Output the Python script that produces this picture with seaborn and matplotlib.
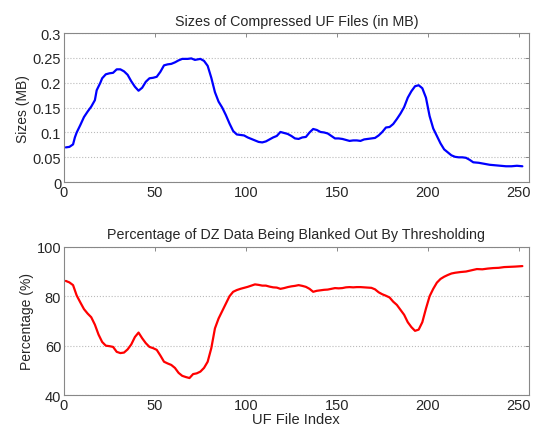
"""
Compressed UF file sizes and DZ blanking percentage, MATLAB-like look.
"""

import matplotlib
matplotlib.use("Agg")
import matplotlib.pyplot as plt
import matplotlib.ticker as mticker
import seaborn as sns

# top panel: file index vs compressed size (MB)
size_idx = [1, 3, 5, 6, 7, 9, 11, 13, 15, 17, 18, 20, 21, 23, 25, 27, 29, 31, 33, 35,
            37, 39, 41, 43, 45, 47, 49, 51, 53, 55, 57, 59, 61, 63, 65, 68, 70, 72, 75, 77,
            79, 81, 83, 85, 87, 89, 91, 93, 95, 97, 99, 101, 103, 105, 107, 109, 111, 113, 115, 117,
            119, 121, 123, 125, 127, 129, 131, 133, 135, 137, 139, 141, 143, 145, 147, 149, 151, 153, 155, 157,
            159, 161, 163, 165, 167, 169, 171, 173, 175, 177, 179, 181, 183, 185, 187, 189, 191, 193, 195, 197,
            199, 201, 203, 205, 207, 209, 211, 213, 215, 217, 219, 221, 223, 225, 228, 231, 234, 237, 240, 243,
            246, 249, 252]
size_mb = [0.070, 0.071, 0.076, 0.090, 0.100, 0.115, 0.131, 0.142, 0.152, 0.165, 0.185, 0.200, 0.209, 0.217, 0.219, 0.220, 0.227, 0.227, 0.223, 0.216,
           0.203, 0.192, 0.184, 0.190, 0.202, 0.209, 0.210, 0.212, 0.222, 0.235, 0.237, 0.238, 0.241, 0.245, 0.248, 0.248, 0.249, 0.246, 0.248, 0.244,
           0.234, 0.210, 0.181, 0.162, 0.150, 0.135, 0.118, 0.103, 0.096, 0.095, 0.094, 0.090, 0.087, 0.084, 0.081, 0.080, 0.082, 0.086, 0.090, 0.093,
           0.101, 0.099, 0.097, 0.093, 0.088, 0.087, 0.090, 0.091, 0.100, 0.107, 0.105, 0.101, 0.100, 0.098, 0.093, 0.088, 0.088, 0.087, 0.085, 0.083,
           0.084, 0.084, 0.083, 0.086, 0.087, 0.088, 0.089, 0.094, 0.101, 0.110, 0.111, 0.117, 0.127, 0.138, 0.151, 0.170, 0.183, 0.193, 0.195, 0.189,
           0.170, 0.133, 0.108, 0.093, 0.078, 0.066, 0.060, 0.054, 0.051, 0.050, 0.050, 0.049, 0.045, 0.040, 0.039, 0.037, 0.035, 0.034, 0.033, 0.032,
           0.032, 0.033, 0.032]

# bottom panel: file index vs percentage blanked out
pct_idx = [1, 3, 5, 7, 9, 11, 13, 15, 17, 19, 21, 23, 25, 27, 29, 31, 33, 35, 37, 39,
           41, 43, 45, 47, 49, 51, 53, 55, 57, 59, 61, 63, 65, 67, 69, 71, 73, 75, 77, 79,
           81, 83, 85, 87, 89, 91, 93, 95, 97, 99, 101, 103, 105, 107, 109, 111, 113, 115, 117, 119,
           121, 123, 125, 127, 129, 131, 133, 135, 137, 139, 141, 143, 145, 147, 149, 151, 153, 155, 157, 159,
           161, 163, 165, 167, 169, 171, 173, 175, 177, 179, 181, 183, 185, 187, 189, 191, 193, 195, 197, 199,
           201, 203, 205, 207, 209, 211, 213, 215, 218, 221, 224, 227, 230, 233, 236, 239, 242, 245, 248, 252]
pct_blank = [86.2, 85.6, 84.5, 80.3, 77.5, 74.8, 73.0, 71.5, 68.5, 64.5, 61.5, 60.0, 59.8, 59.5, 57.5, 57.0, 57.2, 58.5, 60.5, 63.5,
             65.3, 63.0, 61.0, 59.5, 59.0, 58.3, 56.0, 53.5, 52.8, 52.2, 51.0, 49.0, 47.8, 47.3, 46.9, 48.5, 48.8, 49.5, 51.0, 53.5,
             59.0, 67.0, 71.0, 74.0, 77.0, 80.0, 81.8, 82.5, 83.0, 83.4, 83.8, 84.3, 84.8, 84.6, 84.3, 84.3, 83.9, 83.6, 83.5, 83.0,
             83.3, 83.7, 84.0, 84.2, 84.5, 84.2, 83.8, 83.0, 81.8, 82.2, 82.4, 82.6, 82.7, 83.0, 83.3, 83.2, 83.3, 83.6, 83.7, 83.6,
             83.7, 83.7, 83.6, 83.5, 83.4, 82.8, 81.6, 80.8, 80.2, 79.5, 77.8, 76.5, 74.5, 72.5, 69.5, 67.5, 66.0, 66.5, 69.5, 75.0,
             80.0, 83.0, 85.5, 87.0, 87.9, 88.6, 89.2, 89.5, 89.8, 90.0, 90.5, 91.0, 90.9, 91.2, 91.4, 91.5, 91.8, 91.9, 92.0, 92.2]

sns.set_style("white")
plt.rcParams["font.family"] = ["Liberation Sans", "DejaVu Sans"]
plt.rcParams.update({"font.size": 10})

fig = plt.figure(figsize=(5.33, 4.31), dpi=100)
ax_top = fig.add_axes([0.120, 0.575, 0.872, 0.346])
ax_bot = fig.add_axes([0.120, 0.081, 0.872, 0.344])

sns.lineplot(x=size_idx, y=size_mb, ax=ax_top, color="#0000ff", lw=1.6)
sns.lineplot(x=pct_idx, y=pct_blank, ax=ax_bot, color="#ff0000", lw=1.6)

ax_top.set_ylim(0, 0.3)
ax_top.set_yticks([0, 0.05, 0.1, 0.15, 0.2, 0.25, 0.3])
ax_top.set_title("Sizes of Compressed UF Files (in MB)", fontsize=10.3, pad=6)
ax_top.set_ylabel("Sizes (MB)", fontsize=10)

ax_bot.set_ylim(40, 100)
ax_bot.set_yticks([40, 60, 80, 100])
ax_bot.set_title("Percentage of DZ Data Being Blanked Out By Thresholding", fontsize=10.3, pad=6)
ax_bot.set_ylabel("Percentage (%)", fontsize=10)
ax_bot.set_xlabel("UF File Index", fontsize=10.5)

for ax in (ax_top, ax_bot):
    ax.set_xlim(0, 255.5)
    ax.set_xticks([0, 50, 100, 150, 200, 250])
    ax.yaxis.set_major_formatter(mticker.FormatStrFormatter("%g"))
    ax.grid(axis="y", linestyle=":", color="#bbbbbb", lw=0.8)
    ax.tick_params(direction="in", length=3, width=0.6, color="#777777",
                   top=True, right=True, labelsize=10.5, pad=2)
    for sp in ax.spines.values():
        sp.set_color("#888888")
        sp.set_linewidth(0.8)
    ax.xaxis.labelpad = 0
    ax.yaxis.labelpad = 2

fig.savefig("out.png", dpi=100)
